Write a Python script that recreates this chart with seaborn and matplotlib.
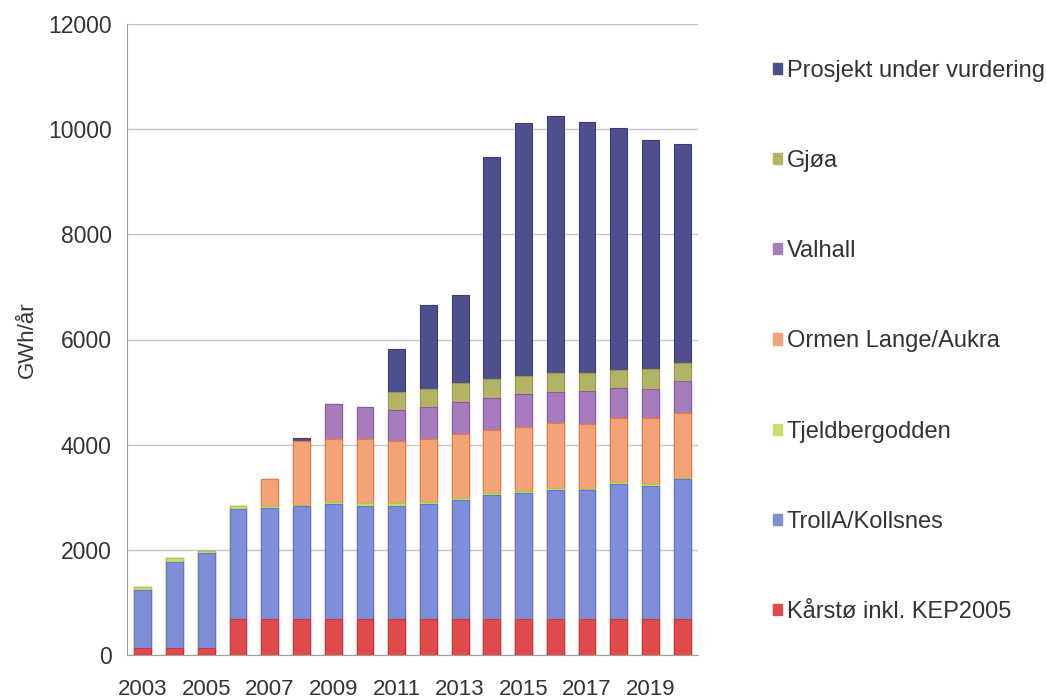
import matplotlib
matplotlib.use("Agg")
import matplotlib.pyplot as plt
import matplotlib.patches as mpatches
import numpy as np
import seaborn as sns

years = [str(y) for y in range(2003, 2021)]
tick_labels = [str(y) for y in range(2003, 2021, 2)]

karsto = [140, 140, 140, 680, 680, 680, 680, 680, 680, 680, 680, 680, 680, 680, 680, 680, 680, 680]
troll = [1100, 1635, 1800, 2090, 2115, 2145, 2190, 2160, 2145, 2190, 2265, 2360, 2410, 2460, 2450, 2575, 2525, 2675]
tjeld = [60, 75, 35, 70, 35, 25, 45, 55, 60, 35, 35, 35, 30, 40, 30, 40, 45, 15]
ormen = [0, 0, 0, 0, 520, 1225, 1185, 1205, 1185, 1200, 1225, 1205, 1225, 1235, 1240, 1215, 1250, 1225]
valhall = [0, 0, 0, 0, 0, 0, 665, 620, 580, 620, 615, 615, 620, 590, 615, 575, 550, 615]
gjoa = [0, 0, 0, 0, 0, 0, 0, 0, 360, 330, 350, 350, 340, 360, 350, 340, 380, 335]
prosjekt = [0, 0, 0, 0, 0, 45, 0, 0, 810, 1605, 1685, 4220, 4805, 4880, 4770, 4600, 4360, 4170]

series_names = ["Kårstø inkl. KEP2005", "TrollA/Kollsnes", "Tjeldbergodden",
                "Ormen Lange/Aukra", "Valhall", "Gjøa", "Prosjekt under vurdering"]
series = [karsto, troll, tjeld, ormen, valhall, gjoa, prosjekt]
colors = ["#e04a4c", "#7f8ed8", "#c4e067", "#f3a477", "#a87bbd", "#b3b366", "#4e4f8c"]
edges = ["#c83a3c", "#6676c8", "#a8c850", "#e87a40", "#8c5aa4", "#9a9a48", "#3c3d74"]

sns.set_style("white")
plt.rcParams["font.family"] = ["Liberation Sans", "DejaVu Sans"]

fig = plt.figure(figsize=(10.46, 7.0), dpi=100)
ax = fig.add_axes([0.1214, 0.0643, 0.546, 0.9014])

cum = np.cumsum(np.array(series), axis=0)
# draw from top layer down so that lower layers overplot
for i in range(len(series) - 1, -1, -1):
    sns.barplot(x=years, y=cum[i], color=colors[i], saturation=1, width=0.53,
                errorbar=None, ax=ax, edgecolor=edges[i], linewidth=0.8, zorder=3)

ax.set_ylim(0, 12000)
ax.set_xlim(-0.5, 17.5)
ax.set_yticks(range(0, 12001, 2000))
ax.yaxis.grid(True, color="#c6c6c6", linewidth=1.0, zorder=0)
ax.set_axisbelow(True)

ax.set_xticks(range(0, 18, 2))
ax.set_xticklabels(tick_labels)
ax.set_xticks(np.arange(-0.5, 18, 1), minor=True)
ax.tick_params(axis="x", which="major", length=0, labelsize=16, colors="#333333", pad=17)
ax.tick_params(axis="x", which="minor", length=5, color="#a0a0a0", width=1, direction="out")
ax.tick_params(axis="y", length=5, color="#a0a0a0", labelsize=16.5, labelcolor="#333333", pad=6)
ax.tick_params(axis="x", labelcolor="#333333")

for s in ["top", "right"]:
    ax.spines[s].set_visible(False)
ax.spines["left"].set_color("#a0a0a0")
ax.spines["bottom"].set_color("#a0a0a0")

ax.set_xlabel("")
ax.set_ylabel("GWh/år", fontsize=16, color="#333333", labelpad=7)

handles = [mpatches.Patch(facecolor=colors[i], edgecolor=colors[i], label=series_names[i])
           for i in range(len(series) - 1, -1, -1)]
leg = fig.legend(handles=handles, loc="upper left", bbox_to_anchor=(0.719, 0.945),
                 frameon=False, fontsize=17, handlelength=0.36, handleheight=0.36,
                 handletextpad=0.2, labelspacing=2.89, labelcolor="#333333")

fig.savefig("out.png", dpi=100)
